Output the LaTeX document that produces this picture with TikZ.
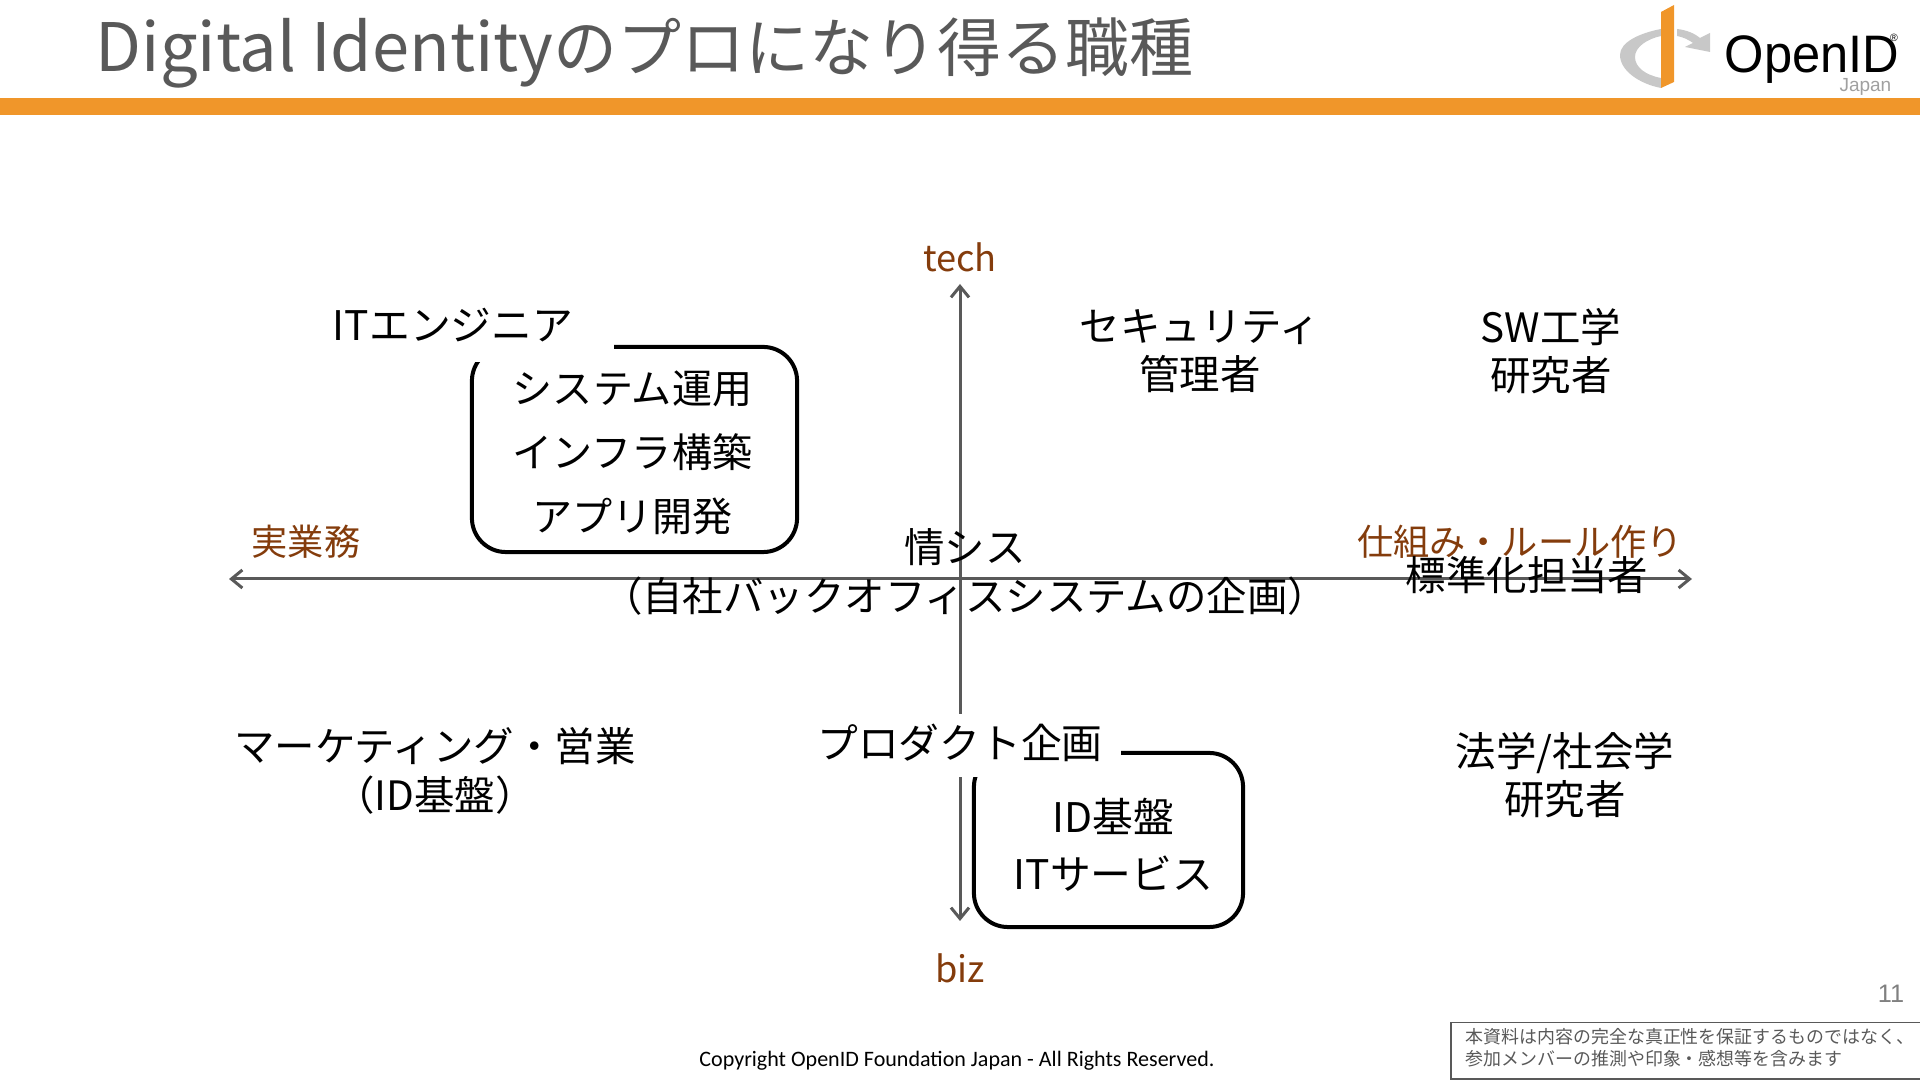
\documentclass[tikz,border=0pt]{standalone}
\usepackage{fontspec}
\setmainfont{Noto Sans CJK JP}
\newfontfamily\latinfont{Liberation Sans}
\newfontfamily\footfont{Carlito}
\usetikzlibrary{arrows.meta,positioning}
\definecolor{barorange}{HTML}{F0962A}
\definecolor{titlegray}{HTML}{595959}
\definecolor{axisgray}{HTML}{595959}
\definecolor{logogray}{HTML}{C8C8C8}
\definecolor{axisbrown}{HTML}{843C0C}
\tikzset{
  bodytext/.style={align=center,inner sep=0pt,font=\fontsize{11.5}{13.7}\selectfont},
  axislabel/.style={inner sep=0pt,text=axisbrown,font=\fontsize{10.3}{12}\selectfont},
  frame/.style={draw=black,line width=0.04cm,rounded corners=0.34cm,align=center,inner sep=0pt},
  coverlabel/.style={fill=white,inner sep=0pt,font=\fontsize{11.6}{13.7}\selectfont},
  axisline/.style={draw=axisgray,line width=0.03cm,{Straight Barb[length=1.1mm,width=1.8mm]}-{Straight Barb[length=1.1mm,width=1.8mm]}}
}
\begin{document}
\begin{tikzpicture}[x=0.01cm,y=-0.01cm]
  \useasboundingbox (0,0) rectangle (1920,1080);
  % header
  \fill[barorange] (0,98) rectangle (1920,115);
  \node[anchor=west,inner sep=0pt,text=titlegray,font=\fontsize{18.2}{22}\selectfont] (title) at (95,53) {{\fontsize{19}{22}\selectfont Digital Identity}のプロになり得る職種};
  % logo
  \fill[logogray] (1661,29) .. controls (1640,33) and (1620,42) .. (1620,55) .. controls (1620,71) and (1640,84) .. (1661,88) -- (1661,78) .. controls (1645,75) and (1635,67) .. (1635,57) .. controls (1635,47) and (1647,39) .. (1661,36) -- cycle;
  \fill[logogray] (1677,29) .. controls (1686,30) and (1694,33) .. (1700,38) -- (1710,33) -- (1710,52) -- (1685,47) -- (1693,43) .. controls (1689,40) and (1683,37) .. (1677,36) -- cycle;
  \fill[barorange] (1661,12) -- (1674,5) -- (1674,82) -- (1661,88) -- cycle;
  \node[anchor=west,inner sep=0pt,xscale=0.96,font=\latinfont\fontsize{15}{18}\selectfont] (openid) at (1724,60) {OpenID};
  \node[inner sep=0pt,font=\latinfont\fontsize{3}{4}\selectfont] (reg) at (1894,38) {®};
  \node[anchor=east,inner sep=0pt,text=logogray!80!black,font=\latinfont\fontsize{5.4}{6}\selectfont] (japan) at (1892,87) {Japan};
  % axes
  \coordinate (axtop) at (960,284);
  \coordinate (axbottom) at (960,921);
  \coordinate (axleft) at (229,579);
  \coordinate (axright) at (1692,579);
  \draw[axisline] (axtop) -- (axbottom);
  \draw[axisline] (axleft) -- (axright);
  \node[axislabel] (tech) at (960,257) {tech};
  \node[axislabel] (biz) at (960,968) {biz};
  \node[axislabel] (jitsu) at (306,542) {実業務};
  \node[axislabel] (rule) at (1520,542) {仕組み・ルール作り};
  % frames
  \node[frame,minimum width=3.25cm,minimum height=2.05cm,font=\fontsize{11.4}{18.2}\selectfont] (itbox) at (634.5,449.5) {\rule{0pt}{0.39cm}\hspace*{-0.04cm}システム運用\\\hspace*{-0.04cm}インフラ構築\\\hspace*{-0.04cm}アプリ開発};
  \node[coverlabel,minimum width=3.22cm,minimum height=0.74cm] (engineer) at (453,325) {ITエンジニア};
  \node[frame,minimum width=2.69cm,minimum height=1.74cm,font=\fontsize{11.6}{16}\selectfont] (idbox) at (1108.5,840) {\rule{0pt}{0.44cm}\hspace*{0.1cm}ID基盤\\\hspace*{0.1cm}ITサービス};
  \node[coverlabel,minimum width=3.22cm,minimum height=0.63cm] (product) at (960,745.5) {\raisebox{0.08cm}{プロダクト企画}};
  % roles
  \node[bodytext] (jousys) at (965,572) {情シス\\（自社バックオフィスシステムの企画）};
  \node[bodytext] (standard) at (1527,575) {標準化担当者};
  \node[bodytext] (security) at (1200,351) {セキュリティ\\管理者};
  \node[bodytext] (swres) at (1551,351) {SW工学\\研究者};
  \node[bodytext] (marketing) at (435,771) {マーケティング・営業\\（ID基盤）};
  \node[bodytext] (lawres) at (1565,775) {法学/社会学\\研究者};
  % footer
  \node[inner sep=0pt,font=\footfont\fontsize{6.27}{7}\selectfont] (copyright) at (957,1061) {Copyright OpenID Foundation Japan - All Rights Reserved.};
  \node[inner sep=0pt,text=gray,font=\latinfont\fontsize{7.2}{8}\selectfont] (pagenum) at (1891,994) {11};
  \node[anchor=north west,draw=axisgray,line width=0.015cm,minimum height=0.56cm,text width=4.42cm,inner xsep=0.15cm,inner ysep=0pt,align=left,text=titlegray,font=\fontsize{5.1}{6.2}\selectfont] (notice) at (1450,1022) {本資料は内容の完全な真正性を保証するものではなく、\\参加メンバーの推測や印象・感想等を含みます\rule[-0.07cm]{0pt}{0pt}};
\end{tikzpicture}
\end{document}
